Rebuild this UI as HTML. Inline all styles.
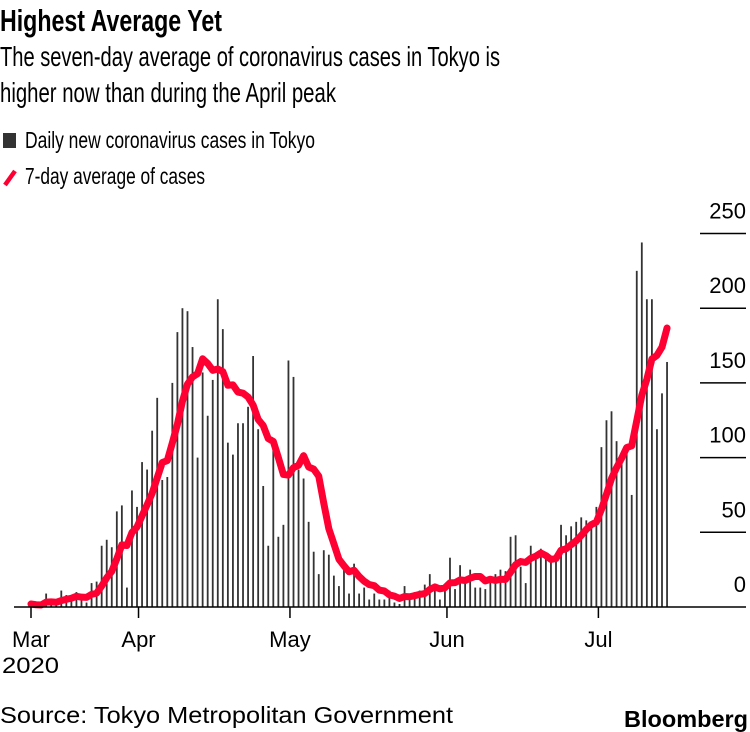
<!DOCTYPE html>
<html><head><meta charset="utf-8"><style>
html,body{margin:0;padding:0;background:#fff;}
svg{display:block;font-family:"Liberation Sans",sans-serif;}
</style></head><body>
<svg id="chart" width="750" height="732" viewBox="0 0 750 732" xmlns="http://www.w3.org/2000/svg">
<text x="0" y="31" font-size="31" font-weight="bold" textLength="222" lengthAdjust="spacingAndGlyphs" fill="#000">Highest Average Yet</text>
<text x="0" y="66" font-size="28" textLength="500" lengthAdjust="spacingAndGlyphs" fill="#000">The seven-day average of coronavirus cases in Tokyo is</text>
<text x="0" y="102" font-size="28" textLength="336" lengthAdjust="spacingAndGlyphs" fill="#000">higher now than during the April peak</text>
<g>
<rect x="3" y="133" width="13" height="15" fill="#333"/>
<text x="25" y="148" font-size="23" textLength="290" lengthAdjust="spacingAndGlyphs">Daily new coronavirus cases in Tokyo</text>
<line x1="5" y1="185" x2="15" y2="171" stroke="#ff0033" stroke-width="4.5"/>
<text x="25" y="184" font-size="23" textLength="180" lengthAdjust="spacingAndGlyphs">7-day average of cases</text>
</g>
<g id="grid"></g>
<g id="bars"></g>
<path id="avg" fill="none" stroke="#ff0033" stroke-width="7" stroke-linejoin="round" stroke-linecap="round"/>
<line x1="14" y1="607" x2="746" y2="607" stroke="#000" stroke-width="1.5"/>
<g id="xaxis"></g>
<text x="2" y="673" font-size="22" textLength="57" lengthAdjust="spacingAndGlyphs">2020</text>
<text x="0" y="723" font-size="23" textLength="453" lengthAdjust="spacingAndGlyphs">Source: Tokyo Metropolitan Government</text>
<text x="624" y="727" font-size="23" font-weight="bold" textLength="124" lengthAdjust="spacingAndGlyphs">Bloomberg</text>
</svg>
<script>
const dailyCases = [2,1,1,9,4,2,11,8,6,10,5,3,16,17,41,45,40,64,68,13,78,67,97,92,118,140,85,87,150,184,200,198,174,100,157,128,152,206,186,110,102,123,123,134,168,119,81,41,110,47,55,165,154,92,86,57,37,22,38,35,21,14,26,9,29,9,13,5,9,5,5,11,3,2,14,8,10,11,15,22,14,5,13,33,12,28,19,25,13,13,12,20,22,25,24,47,48,27,16,41,35,39,35,30,31,55,48,54,57,60,58,54,67,107,125,131,111,102,104,75,225,244,206,206,119,143,164];
const yTicks = [0,50,100,150,200,250];
const xTickLabels = ["Mar","Apr","May","Jun","Jul"];
const xTickDayIndex = [0,21.3,51.3,82.4,112.4];

const NS="http://www.w3.org/2000/svg";
const x0=31, dx=5.048, y0=607, pxPerUnit=1.494;
function xScale(i){return x0+i*dx;}
function yScale(v){return y0-v*pxPerUnit;}
function mk(tag,attrs,parent){const e=document.createElementNS(NS,tag);for(const k in attrs)e.setAttribute(k,attrs[k]);parent.appendChild(e);return e;}

const grid=document.getElementById('grid');
yTicks.forEach(v=>{
  if(v>0){
    const l=mk('line',{x1:700,x2:746,y1:yScale(v),y2:yScale(v),stroke:'#000','stroke-width':1.5},grid);
    
    
  }
  const t=mk('text',{x:746,y:yScale(v)-15,'font-size':22,'text-anchor':'end'},grid);
  t.textContent=String(v);
  
  
});

const bars=document.getElementById('bars');
dailyCases.forEach((v,i)=>{
  const r=mk('rect',{x:xScale(i)-0.9,y:yScale(v),width:1.8,height:v*pxPerUnit,fill:'#333'},bars);
  
  
});

let d='';
dailyCases.forEach((v,i)=>{
  const s=Math.max(0,i-6);let sum=0;for(let k=s;k<=i;k++)sum+=dailyCases[k];
  const a=sum/(i-s+1);
  d+=(i?'L':'M')+xScale(i).toFixed(2)+','+yScale(a).toFixed(2);
});
document.getElementById('avg').setAttribute('d',d);

const xa=document.getElementById('xaxis');
xTickLabels.forEach((lab,j)=>{
  const x=xScale(xTickDayIndex[j]);
  const l=mk('line',{x1:x,x2:x,y1:607,y2:618,stroke:'#000','stroke-width':1.5},xa);
  
  
  const t=mk('text',{x:x,y:647,'font-size':22,'text-anchor':'middle'},xa);
  t.textContent=lab;
  
  
});
</script>
</body></html>
